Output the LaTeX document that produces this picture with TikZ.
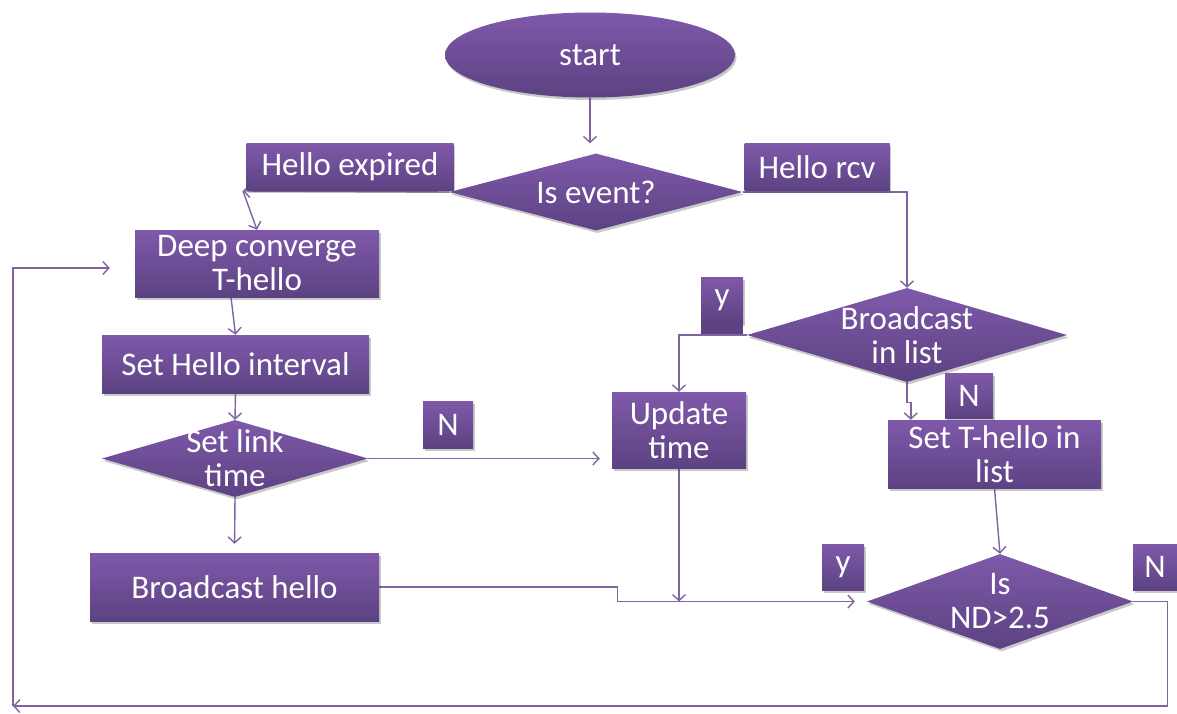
\documentclass[tikz,border=0pt]{standalone}
\usepackage{fontspec}
\setmainfont{Carlito}
\usetikzlibrary{shapes.geometric,arrows.meta,shadows,calc}
\pgfdeclarelayer{bg}
\pgfsetlayers{bg,main}
\definecolor{ptop}{RGB}{127,89,170}
\definecolor{pbot}{RGB}{92,66,130}
\definecolor{pline}{RGB}{128,100,162}
\tikzset{
  txt/.style={text=white, font=\fontsize{33}{34}\selectfont, align=center},
  base/.style={txt, top color=ptop, bottom color=pbot, draw=none, inner sep=0pt,
    drop shadow={shadow xshift=1.5pt, shadow yshift=-2.5pt, opacity=0.3, fill=black!70}},
  box/.style={base, rectangle},
  tag/.style={base, rectangle},
  dia/.style={base, diamond},
  term/.style={base, ellipse},
  ln/.style={draw=pline, line width=1.4pt},
  arr/.style={ln, -{Straight Barb[length=6pt,width=13pt,line width=1.4pt]}},
}
\begin{document}
\begin{tikzpicture}[x=1pt,y=-1pt]
\useasboundingbox (0,0) rectangle (1177,713);

% shapes
\node[term, minimum width=290pt, minimum height=85pt] (start) at (590,55) {start};
\node[dia, minimum width=293pt, minimum height=77pt,
      label={[txt]center:{Is event?}}] (evt) at (596,192) {};
\node[box, minimum width=207pt, minimum height=47pt] (hexp) at (350,167) {Hello expired};
\node[box, minimum width=145pt, minimum height=47pt] (hrcv) at (817,167) {Hello rcv};
\node[box, minimum width=244pt, minimum height=67pt] (deep) at (257,263.5) {Deep converge\\T-hello};
\node[box, minimum width=267pt, minimum height=58pt] (shi) at (235.5,364) {Set Hello interval};
\node[dia, minimum width=266pt, minimum height=77pt,
      label={[txt]center:{Set link\\time}}] (slt) at (235,458.5) {};
\node[box, minimum width=289pt, minimum height=68pt] (bh) at (234.5,587) {Broadcast hello};
\node[box, minimum width=134pt, minimum height=76pt] (upd) at (679,430) {Update\\time};
\node[dia, minimum width=320pt, minimum height=94pt,
      label={[txt]center:{Broadcast\\in list}}] (bl) at (907,335) {};
\node[box, minimum width=213pt, minimum height=68pt] (sth) at (994.5,454) {Set T-hello in\\list};
\node[dia, minimum width=266pt, minimum height=95pt,
      label={[txt]center:{Is\\ND>2.5}}] (nd) at (1000,601.5) {};

% small answer tags
\node[tag, minimum width=42pt, minimum height=46pt] (y1) at (722,300) {y};
\node[rectangle, fill=pbot, minimum width=42pt, minimum height=11pt, inner sep=0pt] (ybar) at (722,328.5) {};
\node[tag, minimum width=50pt, minimum height=47pt] (n1) at (448,424.5) {N};
\node[tag, minimum width=48pt, minimum height=45pt] (n2) at (969,395.5) {N};
\node[tag, minimum width=42pt, minimum height=46pt] (y2) at (843,567) {y};
\node[tag, minimum width=44pt, minimum height=46pt] (n3) at (1155,567) {N};

% connectors
\coordinate (hx) at (243,191);
\coordinate (sthin) at ($(sth.north west)+(23,0)$);
\coordinate (lb) at (13,706);
\coordinate (lt) at (13,268);
\begin{pgfonlayer}{bg}
\draw[arr, shorten >=10pt] (start.south) -- (start.south |- evt.north);
\draw[arr] (evt.west) -- (hx);
\draw[arr] (hx) -- (deep.north);
\draw[arr] (evt.east) -| (bl.north);
\draw[arr] ([xshift=-26pt]deep.south) -- (shi.north);
\draw[arr] (shi.south) -- (slt.north);
\draw[arr, shorten >=12pt] (slt.east) -- (slt.east -| upd.west);
\draw[arr, shorten >=9pt] (slt.south) -- (bh.north);
\draw[arr, shorten >=12pt] (bh.east) -- ++(238,0) |- (nd.west);
\draw[arr] (upd.south) -- (upd.south |- nd.west);
\draw[arr] (bl.west) -| (upd.north);
\draw[arr] (bl.south) -- ++(0,20) -| (sthin);
\draw[arr] (sth.south) -- (nd.north);
\draw[arr] (nd.east) -- ++(34,0) |- (lb);
\draw[arr, shorten >=25pt] (lb) -- (lt) -- (lt -| deep.west);
\end{pgfonlayer}
\end{tikzpicture}
\end{document}
